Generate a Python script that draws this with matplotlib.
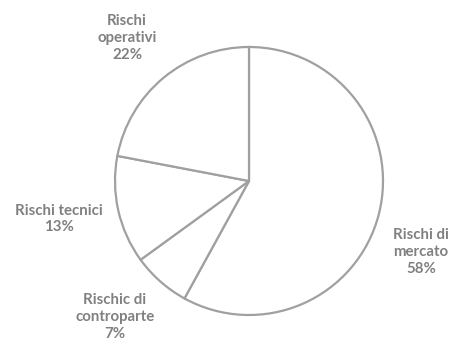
import matplotlib
matplotlib.use("Agg")
import matplotlib.pyplot as plt

# share of risk per category, clockwise from 12 o'clock
labels = ["Rischi di\nmercato", "Rischic di\ncontroparte", "Rischi tecnici", "Rischi\noperativi"]
shares = [58, 7, 13, 22]

# where the data labels sit (pixels, origin bottom-left)
label_xy = [(421, 92), (115, 27), (59, 125), (127, 306)]

fig = plt.figure(figsize=(4.58, 3.44), dpi=100)
ax = fig.add_axes([0, 0, 1, 1])

ax.pie(
    shares,
    center=(249, 163),
    radius=134,
    startangle=90,
    counterclock=False,
    colors=["white"] * len(shares),
    wedgeprops=dict(edgecolor="#a0a0a0", linewidth=1.6),
    frame=True,
)
ax.set_xlim(0, 458)
ax.set_ylim(0, 344)
ax.set_aspect("equal")
ax.axis("off")

for name, val, (x, y) in zip(labels, shares, label_xy):
    ax.text(x, y, f"{name}\n{val}%", ha="center", va="center",
            fontsize=10.8, fontweight="bold", color="#808080",
            family=["Lato", "DejaVu Sans"], linespacing=1.25)

fig.savefig("out.png", dpi=100)
